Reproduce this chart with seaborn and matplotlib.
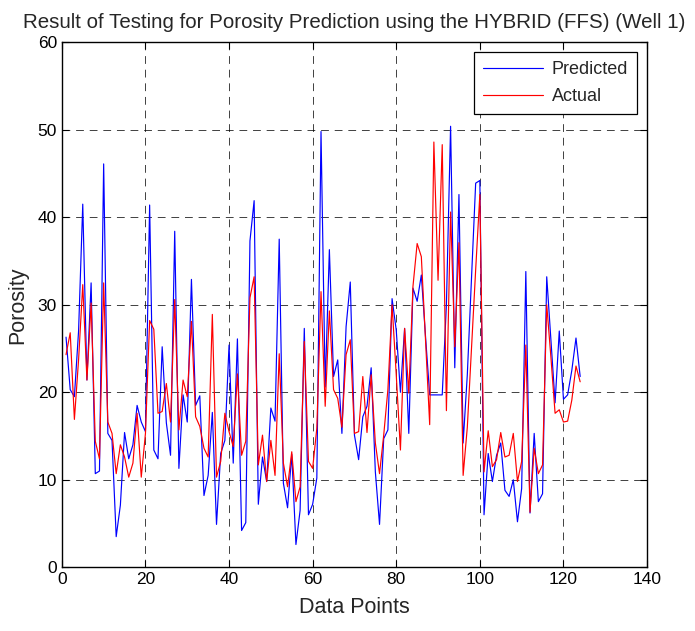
import numpy as np
import pandas as pd
import matplotlib
matplotlib.use("Agg")
import matplotlib.pyplot as plt
import seaborn as sns

predicted = [26.3, 20.3, 19.5, 27.0, 41.5, 21.4, 32.5, 10.7, 11.0, 46.1,
             15.3, 14.5, 3.5, 7.1, 15.4, 12.4, 14.0, 18.5, 16.6, 15.5,
             41.4, 13.4, 12.4, 25.2, 16.5, 12.8, 38.4, 11.3, 19.7, 16.6,
             32.9, 18.5, 19.6, 8.2, 10.5, 17.7, 4.9, 13.0, 14.5, 25.4,
             11.9, 26.1, 4.2, 5.1, 37.3, 41.9, 7.2, 12.6, 9.8, 18.2,
             16.7, 37.5, 9.6, 6.8, 12.9, 2.6, 6.5, 27.3, 6.0, 7.2,
             10.2, 49.8, 20.6, 36.3, 21.8, 23.7, 15.3, 27.5, 32.6, 15.1,
             12.3, 17.2, 18.4, 22.8, 10.9, 4.9, 14.7, 15.7, 30.7, 27.1,
             20.0, 27.3, 15.3, 31.9, 30.4, 33.4, 26.4, 19.7, 19.7, 19.7,
             19.7, 30.0, 50.4, 22.8, 42.6, 14.2, 22.0, 33.0, 43.9, 44.2,
             6.0, 13.0, 9.8, 12.8, 14.2, 8.8, 8.1, 10.0, 5.2, 9.0,
             33.8, 6.2, 15.3, 7.5, 8.4, 33.2, 26.0, 18.8, 27.0, 19.2,
             19.7, 22.5, 26.2, 21.8]

actual = [24.3, 26.8, 16.9, 23.7, 32.3, 21.4, 30.2, 14.4, 12.4, 32.5,
          16.6, 15.3, 10.7, 14.0, 12.6, 10.3, 11.9, 17.6, 10.3, 15.3,
          28.2, 27.2, 17.6, 17.8, 21.0, 16.6, 30.6, 15.7, 21.4, 19.5,
          28.1, 17.2, 16.1, 13.6, 12.6, 28.9, 10.3, 12.1, 17.6, 15.5,
          13.8, 22.1, 12.8, 14.4, 30.8, 33.2, 11.7, 15.1, 9.8, 14.5,
          10.5, 24.4, 11.9, 9.2, 13.2, 7.5, 9.2, 25.8, 12.1, 11.3,
          15.9, 31.5, 18.4, 29.3, 20.3, 19.3, 16.0, 24.3, 26.0, 15.3,
          15.5, 21.8, 15.4, 22.0, 14.2, 10.7, 15.1, 20.3, 30.0, 22.0,
          13.4, 27.3, 19.9, 32.1, 37.0, 35.5, 26.0, 16.3, 48.6, 32.8,
          48.3, 17.9, 40.6, 25.2, 37.1, 10.5, 16.0, 25.0, 34.0, 42.6,
          10.9, 15.6, 11.5, 12.3, 15.4, 12.6, 12.8, 15.3, 9.8, 12.1,
          25.4, 6.3, 13.6, 10.7, 11.7, 30.0, 24.0, 17.6, 18.0, 16.6,
          16.7, 19.1, 23.0, 21.2]

series_names = ["Predicted", "Actual"]
series_colors = ["#0000FF", "#FF0000"]
x_ticks = [0, 20, 40, 60, 80, 100, 120, 140]
y_ticks = [0, 10, 20, 30, 40, 50, 60]

points = np.arange(1, len(predicted) + 1)
df = pd.concat([
    pd.DataFrame({"Data Points": points, "Porosity": predicted, "Series": "Predicted"}),
    pd.DataFrame({"Data Points": points, "Porosity": actual, "Series": "Actual"}),
], ignore_index=True)

sns.set_style("white")
plt.rcParams["font.family"] = ["Liberation Sans", "DejaVu Sans"]

fig = plt.figure(figsize=(6.95, 6.31), dpi=100)
ax = fig.add_axes([0.089, 0.101, 0.842, 0.832])

sns.lineplot(data=df, x="Data Points", y="Porosity", hue="Series",
             hue_order=series_names, palette=series_colors,
             linewidth=0.85, ax=ax, sort=False, estimator=None)

ax.set_xlim(0, 140)
ax.set_ylim(0, 60)
ax.set_xticks(x_ticks)
ax.set_yticks(y_ticks)
ax.grid(True, color="black", linestyle=(0, (8, 6)), linewidth=0.7, alpha=0.75)
ax.set_axisbelow(True)
ax.tick_params(direction="in", length=5, width=0.8, labelsize=12.5,
               top=True, right=True, bottom=True, left=True, colors="black")
for s in ax.spines.values():
    s.set_color("black")
    s.set_linewidth(1.0)

ax.set_xlabel("Data Points", fontsize=15.5, labelpad=7)
ax.set_ylabel("Porosity", fontsize=15.5, labelpad=7)
ax.set_title("Result of Testing for Porosity Prediction using the HYBRID (FFS) (Well 1)",
             fontsize=14.8, pad=10)

leg = ax.legend(loc="upper right", fontsize=13, frameon=True, fancybox=False,
                framealpha=1, edgecolor="black", handlelength=3.3,
                borderaxespad=0.55, borderpad=0.5, labelspacing=0.55,
                handletextpad=0.5)
leg.get_frame().set_linewidth(0.9)
leg.set_title(None)

fig.savefig("out.png", dpi=100, facecolor="white")
